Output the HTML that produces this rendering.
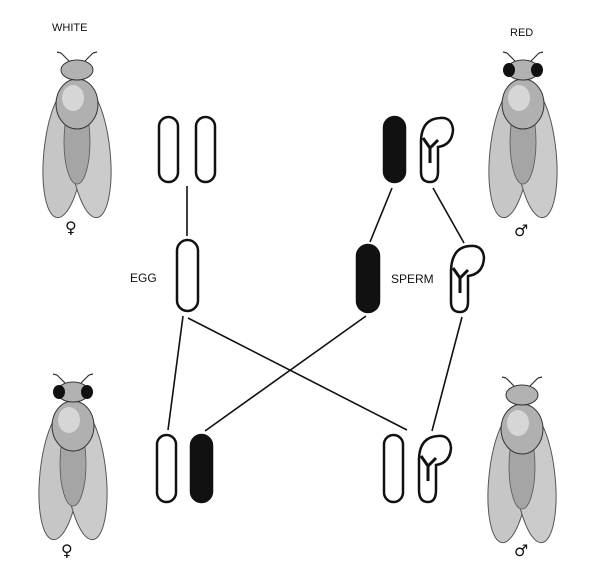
<!DOCTYPE html>
<html><head><style>body{margin:0;background:#fff}svg{display:block}text{font-family:"Liberation Sans",sans-serif;fill:#111}.g{font-family:"DejaVu Sans",sans-serif}</style></head>
<body>
<svg width="600" height="579" viewBox="0 0 600 579" xmlns="http://www.w3.org/2000/svg">
<defs>
<g id="fly">
  <ellipse cx="-13" cy="82" rx="20" ry="66" fill="#c6c6c6" stroke="#555" stroke-width="1" transform="rotate(6 -13 82)"/>
  <ellipse cx="13" cy="82" rx="20" ry="66" fill="#cbcbcb" stroke="#555" stroke-width="1" transform="rotate(-6 13 82)"/>
  <ellipse cx="0" cy="72" rx="13" ry="42" fill="#a5a5a5" stroke="#555" stroke-width="0.8"/>
  <ellipse cx="0" cy="34" rx="21" ry="25" fill="#b0b0b0" stroke="#333" stroke-width="1"/>
  <ellipse cx="-4" cy="28" rx="11" ry="13" fill="#d6d6d6"/>
  <ellipse cx="0" cy="0" rx="16" ry="10" fill="#b2b2b2" stroke="#333" stroke-width="1"/>
  <path d="M-8 -9 L-16 -17 M8 -9 L16 -17 M-16 -17 l-4 -1 M16 -17 l4 -1" stroke="#333" stroke-width="1.2" fill="none"/>
</g>
</defs>

<text x="52" y="31" font-size="11">WHITE</text>
<text x="510" y="36" font-size="11">RED</text>

<use href="#fly" x="77" y="70"/>
<use href="#fly" x="523" y="70"/>
<ellipse cx="509" cy="70" rx="6" ry="7" fill="#111"/><ellipse cx="537" cy="70" rx="6" ry="7" fill="#111"/>
<use href="#fly" x="73" y="392"/>
<ellipse cx="59" cy="392" rx="6" ry="7" fill="#111"/><ellipse cx="87" cy="392" rx="6" ry="7" fill="#111"/>
<use href="#fly" x="522" y="395"/>

<text class="g" x="65" y="233" font-size="16">♀</text>
<text class="g" x="514" y="236" font-size="16">♂</text>
<text class="g" x="61" y="556" font-size="16">♀</text>
<text class="g" x="514" y="556" font-size="16">♂</text>

<text x="130" y="282" font-size="12">EGG</text>
<text x="391" y="283" font-size="12">SPERM</text>

<g stroke="#111" stroke-width="2.5" fill="#fff">
  <rect x="159" y="117" width="19" height="65" rx="9.5"/>
  <rect x="196" y="117" width="19" height="65" rx="9.5"/>
  <rect x="384" y="117" width="21" height="65" rx="10.5" fill="#111"/>
  <rect x="177" y="240" width="21" height="71" rx="10.5"/>
  <rect x="357" y="245" width="22" height="67" rx="11" fill="#111"/>
  <rect x="157" y="435" width="19" height="67" rx="9.5"/>
  <rect x="191" y="435" width="21" height="67" rx="10.5" fill="#111"/>
  <rect x="384" y="435" width="19" height="67" rx="9.5"/>
</g>
<g stroke="#111" stroke-width="2.5" fill="#fff">
  <path d="M421 140 L421 172 Q421 182 430 182 Q438 182 438 172 L438 147 Q452 145 453 130 Q452 117 440 118 Q422 119 421 140 Z"/>
  <path d="M423 138 L430 148 L438 140 M430 148 L430 163" fill="none" stroke-width="3"/>
  <path d="M451 270 L451 302 Q451 312 460 312 Q468 312 468 302 L468 276 Q483 274 484 258 Q483 245 470 246 Q452 247 451 270 Z"/>
  <path d="M453 268 L460 278 L468 270 M460 278 L460 293" fill="none" stroke-width="3"/>
  <path d="M419 458 L419 490 Q419 502 428 502 Q436 502 436 490 L436 465 Q450 463 451 448 Q450 435 438 436 Q420 437 419 458 Z"/>
  <path d="M421 456 L428 466 L436 458 M428 466 L428 481" fill="none" stroke-width="3"/>
</g>
<g stroke="#111" stroke-width="1.6">
  <line x1="187" y1="186" x2="187" y2="236"/>
  <line x1="392" y1="188" x2="370" y2="242"/>
  <line x1="433" y1="188" x2="464" y2="243"/>
  <line x1="183" y1="316" x2="168" y2="430"/>
  <line x1="188" y1="318" x2="407" y2="430"/>
  <line x1="366" y1="316" x2="205" y2="431"/>
  <line x1="462" y1="317" x2="432" y2="431"/>
</g>
</svg>
</body></html>
